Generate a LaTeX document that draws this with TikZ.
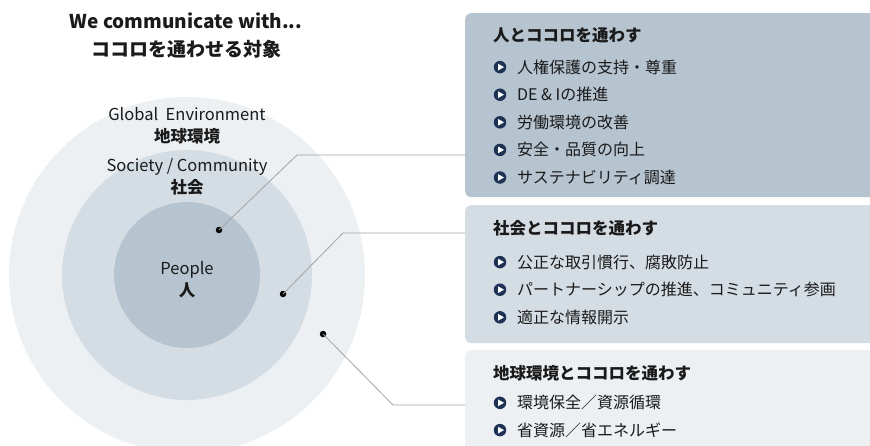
\documentclass[tikz,border=0pt]{standalone}
\usepackage{fontspec}
\setmainfont{Noto Sans CJK JP}
\usetikzlibrary{positioning}
\definecolor{ringA}{HTML}{B6C4CF}
\definecolor{ringB}{HTML}{D5DDE4}
\definecolor{ringC}{HTML}{ECF0F3}
\definecolor{navy}{HTML}{1E3256}
\definecolor{leader}{HTML}{A3A3A3}
\definecolor{ink}{HTML}{1A1A1A}

\tikzset{
	ring/.style={circle,inner sep=0pt,minimum size=#1},
	panel/.style={rounded corners=6pt,inner sep=0pt,minimum width=430pt,minimum height=#1,anchor=north west},
	dot/.style={circle,fill=black,inner sep=0pt,minimum size=6.5pt},
	link/.style={draw=leader,line width=0.8pt},
	bul/.style={circle,fill=navy,inner sep=0pt,minimum size=12.5pt,
		path picture={\fill[white] ([xshift=-2pt,yshift=-3.4pt]path picture bounding box.center) -- ++(6pt,3.4pt) -- ++(-6pt,3.4pt) -- cycle;}},
	item/.style={anchor=west,inner sep=0pt,font=\fontsize{16}{19}\selectfont,text=ink},
	head/.style={anchor=west,inner sep=0pt,font=\fontsize{16.5}{19}\selectfont\bfseries,text=ink},
	ringtext/.style={align=center,text=ink,font=\fontsize{16.5}{22}\selectfont}
}

\begin{document}
\begin{tikzpicture}[x=1pt,y=-1pt]
	\useasboundingbox (0,0) rectangle (870,445);
	\begin{scope}
		\clip (0,0) rectangle (870,445);
		% rings
		\node[ring=356pt,fill=ringC] (outer) at (187,275) {};
		\node[ring=250pt,fill=ringB] (middle) at (187,275) {};
		\node[ring=146pt,fill=ringA] (inner) at (187,275) {};
		% panels
		\node[panel=184pt,fill=ringA] (b1) at (465,13) {};
		\node[panel=138pt,fill=ringB] (b2) at (465,205) {};
		\node[panel=110pt,fill=ringC] (b3) at (465,350) {};
	\end{scope}

	\node[align=center,text=ink,font=\fontsize{19}{28}\selectfont\bfseries] (title) at (186,36)
		{We communicate with...\\ココロを通わせる対象};

	\node[ringtext] (gl) at (187,126) {Global~~Environment\\\textbf{地球環境}};
	\node[ringtext] (so) at (187,177) {Society / Community\\\textbf{社会}};
	\node[ringtext] (pe) at (187,280) {People\\\textbf{人}};

	% leaders
	\node[dot] (d1) at (219,230) {};
	\node[dot] (d2) at (283,294) {};
	\node[dot] (d3) at (323,334) {};
	\coordinate (k1) at (297,155);
	\coordinate (k2) at (343,233);
	\coordinate (k3) at (393,405);
	\draw[link] (d1.center) -- (k1) -- (k1 -| b1.west);
	\draw[link] (d2.center) -- (k2) -- (k2 -| b2.west);
	\draw[link] (d3.center) -- (k3) -- (k3 -| b3.west);

	% panel texts
	\node[head] (h1) at (493,35) {人とココロを通わす};
	\foreach \t [count=\i] in {人権保護の支持・尊重,DE \& Iの推進,労働環境の改善,安全・品質の向上,サステナビリティ調達}{
		\node[bul] (p1\i) at (500,39.5+27.6*\i) {};
		\node[item] at (517,39.5+27.6*\i) {\t};
	}
	\node[head] (h2) at (493,228) {社会とココロを通わす};
	\foreach \t [count=\i] in {公正な取引慣行、腐敗防止,パートナーシップの推進、コミュニティ参画,適正な情報開示}{
		\node[bul] (p2\i) at (500,234.5+27.6*\i) {};
		\node[item] at (517,234.5+27.6*\i) {\t};
	}
	\node[head] (h3) at (493,373) {地球環境とココロを通わす};
	\foreach \t [count=\i] in {環境保全／資源循環,省資源／省エネルギー}{
		\node[bul] (p3\i) at (500,375.5+27.3*\i) {};
		\node[item] at (517,375.5+27.3*\i) {\t};
	}
\end{tikzpicture}
\end{document}
